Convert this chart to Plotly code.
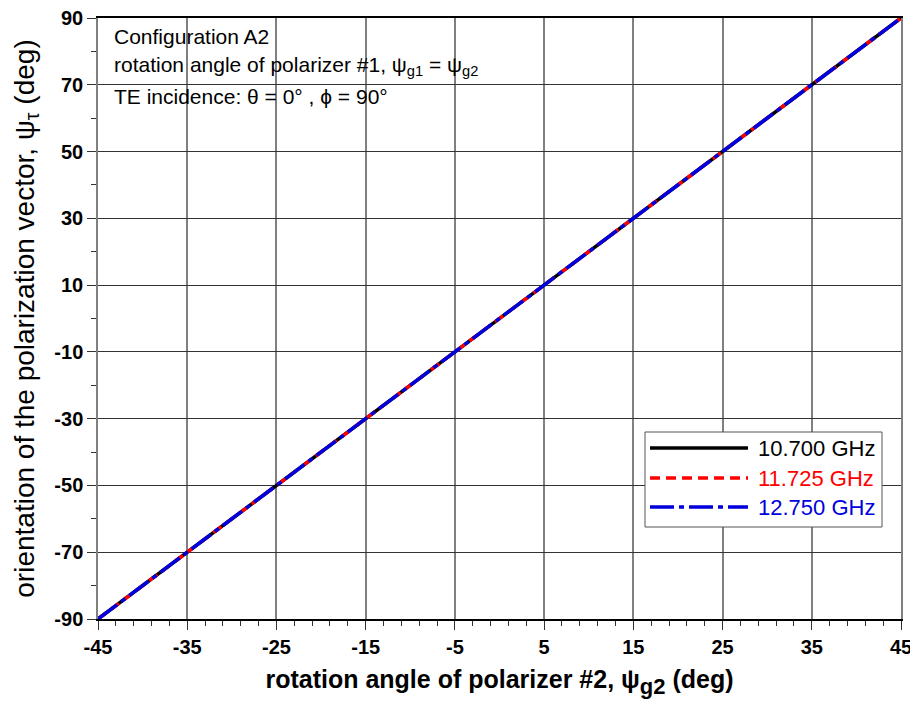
import plotly.graph_objects as go

# Data (psi_g2 in deg -> psi_tau in deg)
psi_g2 = [-45, -40, -35, -30, -25, -20, -15, -10, -5, 0, 5, 10, 15, 20, 25, 30, 35, 40, 45]
psi_tau_10700 = [-90, -80, -70, -60, -50, -40, -30, -20, -10, 0, 10, 20, 30, 40, 50, 60, 70, 80, 90]
psi_tau_11725 = [-90, -80, -70, -60, -50, -40, -30, -20, -10, 0, 10, 20, 30, 40, 50, 60, 70, 80, 90]
psi_tau_12750 = [-90, -80, -70, -60, -50, -40, -30, -20, -10, 0, 10, 20, 30, 40, 50, 60, 70, 80, 90]

series_names = ["10.700 GHz", "11.725 GHz", "12.750 GHz"]
series_colors = ["#000000", "#ff0000", "#0000dd"]
series_dash = ["solid", "10px,6px", "24px,5px,5px,5px"]

x_ticks = [-45, -35, -25, -15, -5, 5, 15, 25, 35, 45]
y_ticks = [-90, -70, -50, -30, -10, 10, 30, 50, 70, 90]

FONT = "Liberation Sans, Arial, sans-serif"

# the page body adds an 8px offset; compensate so the plot sits where the reference has it
OFF = 8
W, H = 918 - OFF, 702 - OFF
L, T = 98 - OFF, 18 - OFF
R, B = 17, 83
PW, PH = W - L - R, H - T - B

fig = go.Figure()
for ys, name, col, dash in zip([psi_tau_10700, psi_tau_11725, psi_tau_12750],
                               series_names, series_colors, series_dash):
    fig.add_trace(go.Scatter(x=psi_g2, y=ys, mode="lines", name=name,
                             line=dict(color=col, width=3.5, dash=dash),
                             showlegend=False))

fig.update_layout(
    width=W, height=H,
    margin=dict(l=L, r=R, t=T, b=B, autoexpand=False),
    paper_bgcolor="white", plot_bgcolor="white",
    font=dict(family=FONT, color="black"),
)
fig.update_xaxes(
    range=[-45, 45], tickvals=x_ticks, ticktext=[str(v) for v in x_ticks],
    tickfont=dict(size=20, family=FONT, weight="bold"),
    ticklabeloverflow="allow",
    showgrid=True, gridcolor="#808080", gridwidth=1.5,
    showline=True, linecolor="black", linewidth=1.5, mirror=True,
    ticks="outside", ticklen=9, tickcolor="#333333", tickwidth=1,
    minor=dict(dtick=2, tick0=-45, ticks="outside", ticklen=5, tickcolor="#333333", showgrid=False),
    zeroline=False, automargin=False,
    title=dict(text="rotation angle of polarizer #2, ψ<sub><span style='font-size:22px'>g2</span></sub> (deg)",
               font=dict(size=25, family=FONT, weight="bold"), standoff=14),
)
fig.update_yaxes(
    range=[-90, 90], tickvals=y_ticks, ticktext=[str(v) for v in y_ticks],
    tickfont=dict(size=20, family=FONT, weight="bold"),
    ticklabeloverflow="allow",
    showgrid=True, gridcolor="#333333", gridwidth=1,
    showline=True, linecolor="#808080", linewidth=1.5, mirror=True,
    ticks="outside", ticklen=9, tickcolor="#333333", tickwidth=1,
    minor=dict(dtick=10, tick0=-90, ticks="outside", ticklen=5, tickcolor="#333333", showgrid=False),
    zeroline=False, automargin=False,
    title=dict(text="orientation of the polarization vector, ψ<sub>τ</sub> (deg)",
               font=dict(size=28, family=FONT), standoff=12),
)

def px(xp):
    return (xp - OFF - L) / PW

def py(yp):
    return 1 - (yp - OFF - T) / PH

# Text block at top-left
ann_lines = ["Configuration A2",
             "rotation angle of polarizer #1, ψ<sub>g1</sub> = ψ<sub>g2</sub>",
             "TE incidence: θ = 0° , ϕ = 90°"]
ann_y = [37, 66, 96]
for txt, yy in zip(ann_lines, ann_y):
    fig.add_annotation(text=txt, xref="paper", yref="paper",
                       x=px(112), y=py(yy),
                       xanchor="left", yanchor="middle", showarrow=False,
                       font=dict(size=21, family=FONT, color="black"))

# Manual legend box
fig.add_shape(type="rect", xref="paper", yref="paper",
              x0=px(645), x1=px(882), y0=py(527), y1=py(432),
              line=dict(color="#555555", width=1), fillcolor="white", layer="above")
leg_y = [448, 478, 507]
for name, col, dash, yy in zip(series_names, series_colors, series_dash, leg_y):
    fig.add_shape(type="line", xref="paper", yref="paper",
                  x0=px(650), x1=px(748), y0=py(yy), y1=py(yy),
                  line=dict(color=col, width=3.5, dash=dash), layer="above")
    fig.add_annotation(text=name, xref="paper", yref="paper",
                       x=px(756), y=py(yy), xanchor="left", yanchor="middle",
                       showarrow=False, font=dict(size=22, family=FONT, color=col))

fig.write_html("out.html")
